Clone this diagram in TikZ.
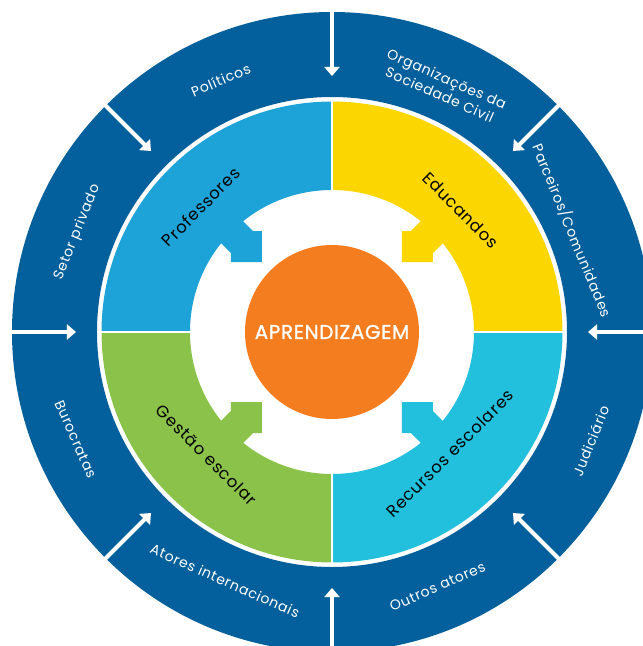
\documentclass[tikz,border=0pt]{standalone}
\usepackage{fontspec}
\setmainfont{Poppins}[LetterSpace=5]
\newfontfamily\centrefont{Poppins}[LetterSpace=3,FakeBold=1.2]
\usetikzlibrary{arrows.meta}
\definecolor{darkblue}{HTML}{03609C}
\definecolor{qblue}{HTML}{1EA3D8}
\definecolor{qyellow}{HTML}{FCD600}
\definecolor{qgreen}{HTML}{8BC34A}
\definecolor{qcyan}{HTML}{22C0DC}
\definecolor{corange}{HTML}{F47D20}
\begin{document}
\begin{tikzpicture}[x=1pt,y=1pt,
  outerlabel/.style={text=white,font=\fontsize{14}{17.5}\selectfont,align=center,inner sep=0pt},
  innerlabel/.style={text=black,font=\fontsize{16.5}{20}\selectfont,inner sep=0pt},
  ringarrow/.style={white,line width=4pt,-{Triangle[width=15pt,length=9pt]}},
  sep/.style={white,line width=1.5pt}]
\useasboundingbox (-332,-314) rectangle (311,332);
\clip (-332,-314) rectangle (311,332);
% outer dark ring
\fill[darkblue,even odd rule] (0,0) circle (320) (0,0) circle (235);
% coloured quadrants with their arrows
\foreach \ang/\col in {0/qblue,-90/qyellow,180/qcyan,90/qgreen}{
  \begin{scope}[rotate=\ang]
    \fill[\col] (90:230.5) arc (90:180:230.5) -- (180:142) arc (180:90:142) -- cycle;
    \fill[\col] (-94.5,116.5) -- (-79,101) -- (-70,101) -- (-70,70) -- (-101,70) -- (-101,79) -- (-116.5,94.5) -- cycle;
  \end{scope}
}
% separators between quadrants
\draw[sep] (90:141) -- (90:231);
\draw[sep] (180:141) -- (180:231);
\draw[sep] (270:141) -- (270:231);
\draw[sep] (0:141) -- (0:231);
% centre
\node[circle,fill=corange,minimum size=174pt,inner sep=0pt,text=white,font=\centrefont\fontsize{20}{22}\selectfont] (centre) at (0,0) {APRENDIZAGEM};
% white arrows in the outer ring
\foreach \a in {0,45,...,315}{
  \coordinate (s\a) at (\a:326);
  \coordinate (t\a) at (\a:256);
  \draw[ringarrow] (s\a) -- (t\a);
}
% outer labels
\node[outerlabel,rotate=23] (politicos) at (-111.3,252) {Políticos};
\node[outerlabel,rotate=68] (setor) at (-254.7,99.7) {Setor privado};
\node[outerlabel,rotate=-24] (osc) at (111.3,245.3) {Organizações da\\Sociedade Civil};
\node[outerlabel,rotate=-67.7] (parceiros) at (240.3,101.3) {Parceiros/Comunidades};
\node[outerlabel,rotate=68] (judiciario) at (258.8,-108.8) {Judiciário};
\node[outerlabel,rotate=23.8] (outros) at (105.5,-254.7) {Outros atores};
\node[outerlabel,rotate=-24] (atores) at (-107,-248.8) {Atores internacionais};
\node[outerlabel,rotate=-66] (burocratas) at (-256.2,-107.2) {Burocratas};
% inner labels
\node[innerlabel,rotate=45] (professores) at (-131.2,125.3) {Professores};
\node[innerlabel,rotate=-45] (educandos) at (128.8,122) {Educandos};
\node[innerlabel,rotate=-45] (gestao) at (-125.3,-123) {Gestão escolar};
\node[innerlabel,rotate=45] (recursos) at (118,-121.3) {Recursos escolares};
\end{tikzpicture}
\end{document}
